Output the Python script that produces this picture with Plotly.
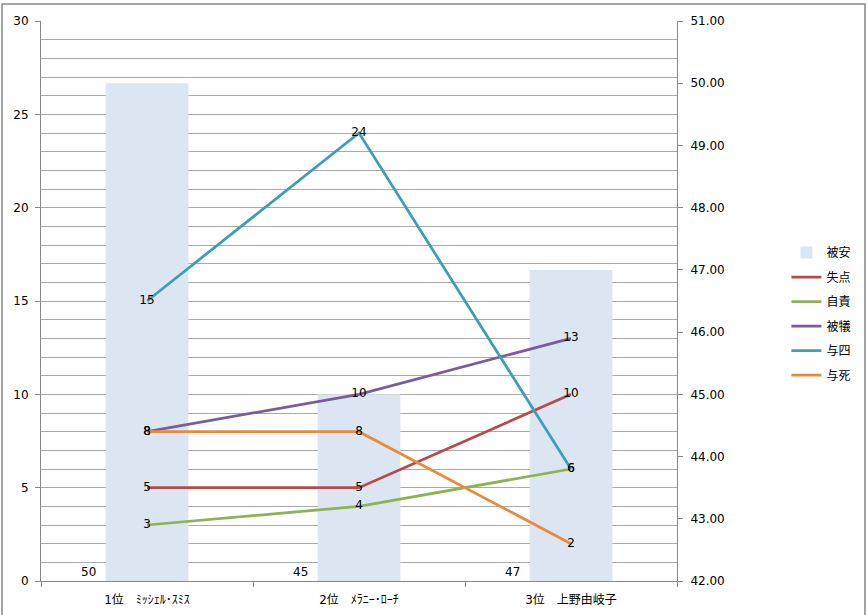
import plotly.graph_objects as go

categories = ["1位　ﾐｯｼｪﾙ･ｽﾐｽ", "2位　ﾒﾗﾆｰ･ﾛｰﾁ", "3位　上野由岐子"]
hits = [50, 45, 47]  # 被安 (right axis)
line_names = ["失点", "自責", "被犠", "与四", "与死"]
runs = [5, 5, 10]
earned = [3, 4, 6]
sacrifices = [8, 10, 13]
walks = [15, 24, 6]
hbp = [8, 8, 2]
line_values = [runs, earned, sacrifices, walks, hbp]
line_colors = ["#B94A48", "#8DB255", "#7A5C9E", "#3E9EB5", "#E98A3C"]

FONT = "DejaVu Sans, Noto Sans CJK JP, sans-serif"

fig = go.Figure()
# bars on the base axis (right side), lines on overlaying axis (left side) so lines draw on top
fig.add_trace(go.Bar(
    x=categories, y=hits, name="被安", yaxis="y",
    marker=dict(color="#DCE6F2", line=dict(width=0)),
    legendgroup="g0",
))
for i, (nm, vals, col) in enumerate(zip(line_names, line_values, line_colors)):
    fig.add_trace(go.Scatter(
        x=categories, y=vals, name=nm, mode="lines+text", yaxis="y2",
        line=dict(color=col, width=2.75),
        text=[str(v) for v in vals], textposition="middle center",
        textfont=dict(color="#000000", size=12, family=FONT),
        legendgroup=f"g{i+1}",
    ))

for c, h in zip(categories, hits):
    fig.add_annotation(x=c, y=0, xref="x", yref="y2", text=str(h),
                       showarrow=False, xshift=-59, yanchor="bottom",
                       font=dict(size=12, color="#000000", family=FONT))

fig.add_shape(type="rect", xref="paper", yref="paper",
              x0=-0.0613, x1=1.2956, y0=-0.1, y1=1.0304,
              line=dict(color="#888888", width=1.5), fillcolor="rgba(0,0,0,0)",
              layer="below")

fig.update_layout(
    width=867, height=615,
    margin=dict(l=41, r=190, t=21, b=34, autoexpand=False),
    paper_bgcolor="white", plot_bgcolor="white",
    font=dict(family=FONT, size=12, color="#000000"),
    bargap=0.61,
    showlegend=True,
    legend=dict(x=1.172, y=0.6125, xanchor="left", yanchor="top",
                tracegroupgap=5.5, font=dict(size=12, family=FONT),
                itemwidth=30, bgcolor="rgba(0,0,0,0)"),
    xaxis=dict(
        type="category", showline=True, linecolor="#888888", linewidth=1,
        ticks="outside", tickson="boundaries", ticklen=5, tickcolor="#888888",
        showgrid=False, tickfont=dict(size=12), automargin=False,
        ticklabelstandoff=8,
    ),
    yaxis2=dict(
        range=[0, 30], dtick=5, side="left", overlaying="y",
        showline=True, linecolor="#888888", linewidth=1,
        ticks="outside", ticklen=5, tickcolor="#888888",
        showgrid=True, gridcolor="#AAAAAA", gridwidth=1,
        minor=dict(dtick=1, showgrid=True, gridcolor="#AAAAAA", gridwidth=1),
        zeroline=False, tickfont=dict(size=12), automargin=False,
        ticklabelstandoff=4,
    ),
    yaxis=dict(
        range=[42, 51], dtick=1, side="right",
        showline=True, linecolor="#888888", linewidth=1,
        ticks="outside", ticklen=5, tickcolor="#888888",
        showgrid=False, zeroline=False, tickformat=".2f", tickfont=dict(size=12),
        automargin=False, ticklabelstandoff=5,
    ),
)

fig.write_html("out.html", config={"displayModeBar": False},
               post_script="document.body.style.margin='0';")
